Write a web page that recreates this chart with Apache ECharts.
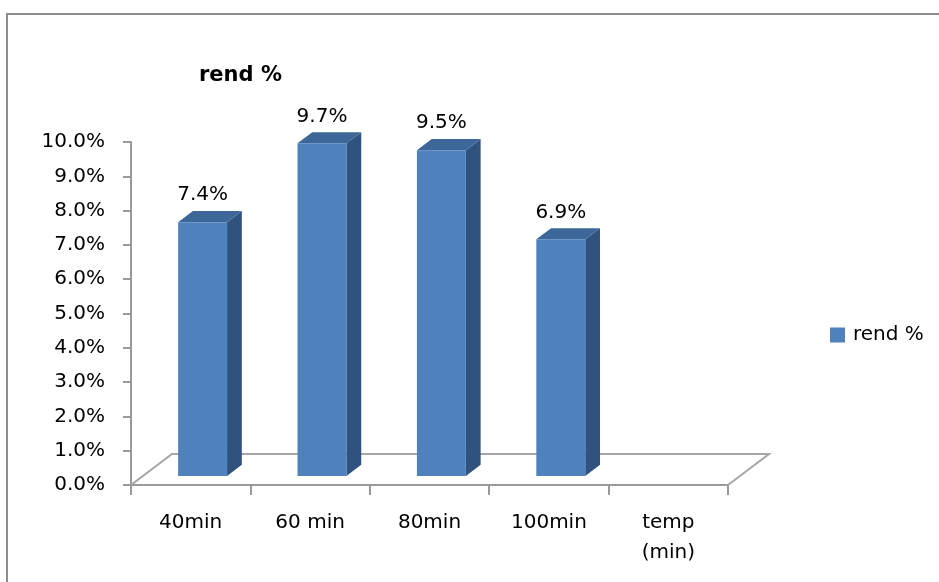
<!DOCTYPE html>
<html>
<head>
<meta charset="utf-8">
<script src="https://cdn.jsdelivr.net/npm/echarts@6/dist/echarts.min.js"></script>
<style>
  html, body { margin: 0; padding: 0; background: #fff; }
  #chart { width: 939px; height: 582px; }
</style>
</head>
<body>
<div id="chart"></div>
<script>
// Yield by reaction time
const categories = ['40min', '60 min', '80min', '100min', 'temp\n(min)'];
const rendValues = [0.074, 0.097, 0.095, 0.069, null];
const yTicks = { min: 0, max: 0.10, interval: 0.01 };
const seriesName = 'rend %';

const FONT = 'DejaVu Sans';
const FRONT = '#4F81BD';
const TOP = '#3E6799';
const SIDE = '#30527F';

// Depth of the 3D floor, and where the bars sit inside that depth
const floorDx = 41, floorDy = -31;
const barFrontFrac = 0.29, barDepthFrac = 0.36;
const barWidthFrac = 0.41;

function pct(v) { return (v * 100).toFixed(1) + '%'; }

const chart = echarts.init(document.getElementById('chart'), null, { renderer: 'canvas' });

chart.setOption({
  animation: false,
  backgroundColor: '#fff',
  title: {
    text: 'rend %',
    left: 194,
    top: 60,
    textStyle: { fontFamily: FONT, fontSize: 21, fontWeight: 'bold', color: '#000' }
  },
  legend: {
    data: [seriesName],
    left: 825,
    top: 320,
    icon: 'rect',
    itemWidth: 15,
    itemHeight: 15,
    textStyle: { fontFamily: FONT, fontSize: 20, color: '#000', padding: [0, 0, 0, 3] }
  },
  graphic: [{
    type: 'rect',
    shape: { x: 7, y: 14, width: 1000, height: 1000 },
    style: { fill: 'none', stroke: '#8c8c8c', lineWidth: 2 },
    silent: true
  }],
  grid: { left: 131, right: 211, top: 142, bottom: 97, containLabel: false },
  xAxis: {
    type: 'category',
    data: categories,
    boundaryGap: true,
    axisLine: { lineStyle: { color: '#9a9a9a', width: 2 } },
    axisTick: { show: true, length: 10, alignWithLabel: false, interval: 0, lineStyle: { color: '#9a9a9a', width: 2 } },
    axisLabel: { interval: 0, fontFamily: FONT, fontSize: 20, color: '#000', margin: 23, lineHeight: 30 },
    splitLine: { show: false }
  },
  yAxis: {
    type: 'value',
    min: yTicks.min,
    max: yTicks.max,
    interval: yTicks.interval,
    axisLine: { show: true, lineStyle: { color: '#9a9a9a', width: 2 } },
    axisTick: { show: true, length: 8, lineStyle: { color: '#9a9a9a', width: 2 } },
    axisLabel: { fontFamily: FONT, fontSize: 20, color: '#000', margin: 26, formatter: pct },
    splitLine: { show: false }
  },
  series: [
    {
      // floor of the 3D plot area
      type: 'custom',
      silent: true,
      z: 1,
      legendHoverLink: false,
      data: [0],
      renderItem: function (params, api) {
        const cs = params.coordSys;
        const x0 = cs.x, x1 = cs.x + cs.width, yb = cs.y + cs.height;
        return {
          type: 'polyline',
          shape: { points: [[x0, yb], [x0 + floorDx, yb + floorDy], [x1 + floorDx, yb + floorDy], [x1, yb]] },
          style: { stroke: '#a6a6a6', lineWidth: 2, fill: null }
        };
      }
    },
    {
      name: seriesName,
      type: 'custom',
      z: 3,
      itemStyle: { color: FRONT },
      data: rendValues.map(function (v, i) { return [i, v]; }).filter(function (d) { return d[1] != null; }),
      encode: { x: 0, y: 1 },
      renderItem: function (params, api) {
        const idx = api.value(0);
        const val = api.value(1);
        const top = api.coord([idx, val]);
        const base = api.coord([idx, 0]);
        const band = api.size([1, 0])[0];
        const w = band * barWidthFrac;
        const ox = floorDx * barFrontFrac, oy = floorDy * barFrontFrac;
        const dx = floorDx * barDepthFrac, dy = floorDy * barDepthFrac;
        const xl = top[0] + ox - w / 2, xr = xl + w;
        const yt = top[1] + oy, yb = base[1] + oy;
        return {
          type: 'group',
          children: [
            { type: 'polygon', shape: { points: [[xr, yt], [xr + dx, yt + dy], [xr + dx, yb + dy], [xr, yb]] },
              style: { fill: SIDE } },
            { type: 'polygon', shape: { points: [[xl, yt], [xl + dx, yt + dy], [xr + dx, yt + dy], [xr, yt]] },
              style: { fill: TOP } },
            { type: 'rect', shape: { x: xl, y: yt, width: w, height: yb - yt },
              style: { fill: FRONT } },
            { type: 'text', style: { text: pct(val), x: (xl + xr) / 2, y: yt - 27,
              align: 'center', verticalAlign: 'middle', fill: '#000', font: '20px "DejaVu Sans"' } }
          ]
        };
      }
    }
  ]
});
</script>
</body>
</html>
